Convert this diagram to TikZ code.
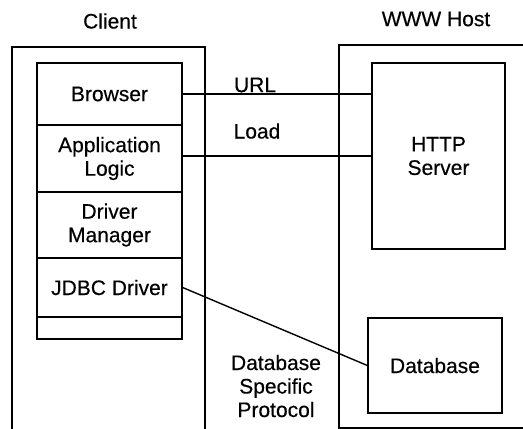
\documentclass[tikz,border=0pt]{standalone}
\usepackage{fontspec}
\newfontfamily\labfont{Liberation Sans}[FakeBold=0.35]
\begin{document}
\begin{tikzpicture}[x=1pt,y=-1pt,
  every node/.style={font=\labfont\fontsize{21}{23.5}\selectfont, align=center, inner sep=0pt},
  cell/.style={draw, line width=1.3pt, minimum width=145pt},
  srv/.style={draw, line width=1.3pt},
  frame/.style={line width=1.2pt},
  link/.style={line width=1.4pt},
  lbl/.style={}]
\useasboundingbox (0,0) rectangle (523,429);
% titles
\node[lbl] (tclient) at (110,21) {Client};
\node[lbl] (thost) at (436,19) {WWW Host};
% frames
\draw[frame] (12,429) -- (12,47) -- (205,47) -- (205,429);
\draw[frame] (339,429) -- (339,45) -- (523,45);
\draw[frame] (339,428) -- (523,428);
% client stack
\node[cell, minimum height=62pt] (browser) at (109.5,94) {Browser};
\node[cell, minimum height=67pt] (app) at (109.5,158.5) {Application\\Logic};
\node[cell, minimum height=66pt] (mgr) at (109.5,225) {Driver\\Manager};
\node[cell, minimum height=59pt] (jdbc) at (109.5,287.5) {JDBC Driver};
\node[cell, minimum height=22pt] (empty) at (109.5,328) {};
% host
\node[srv, minimum width=133pt, minimum height=186pt] (http) at (438.5,156) {HTTP\\Server};
\node[srv, minimum width=134pt, minimum height=95pt] (db) at (435,365.5) {Database};
% connectors
\draw[line width=2.2pt] (browser.east) -- (http.west |- browser.east);
\draw[link] (app.east |- http.west) -- (http.west);
\draw[link] (jdbc.east) -- (db.west);
% labels
\node[lbl] (lurl) at (255,85) {URL};
\node[lbl] (lload) at (257,131) {Load};
\node[lbl] (lproto) at (276,386) {Database\\Specific\\Protocol};
\end{tikzpicture}
\end{document}
